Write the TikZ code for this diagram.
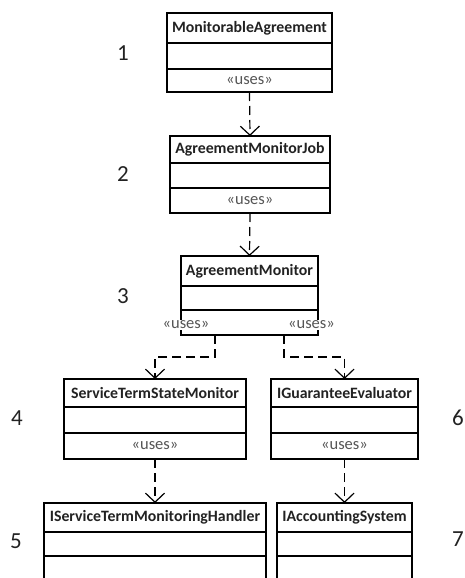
\documentclass[tikz,border=0pt]{standalone}
\usepackage{fontspec}
\setmainfont{Carlito}
\usetikzlibrary{arrows.meta}
\definecolor{txt}{HTML}{222222}
\definecolor{ltxt}{HTML}{555555}
\tikzset{
  comp/.style={draw=black, line width=1.2pt, anchor=north west, inner sep=0pt, outer sep=0pt, fill=white},
  ttl/.style={comp, font=\bfseries\fontsize{15.8}{15.8}\selectfont, text=txt},
  uses/.style={font=\fontsize{16.5}{16.5}\selectfont, text=ltxt},
  num/.style={font=\fontsize{23}{23}\selectfont, text=txt},
  dep/.style={draw=black, line width=1.2pt, dash pattern=on 9pt off 5pt, -{Straight Barb[length=9pt,width=19pt,line width=1.2pt]}},
}
\begin{document}
\begin{tikzpicture}[x=1pt,y=-1pt]
\useasboundingbox (0,0) rectangle (465,578);
\clip (0,0) rectangle (465,578);
% Box 1
\node[ttl, minimum width=165pt, minimum height=30pt] (b1) at (167,13) {MonitorableAgreement};
\node[comp, minimum width=165pt, minimum height=26pt] (b1m) at (167,43) {};
\node[comp, minimum width=165pt, minimum height=23pt, uses] (b1u) at (167,69) {«uses»};
% Box 2
\node[ttl, minimum width=160pt, minimum height=27pt] (b2) at (170,136) {AgreementMonitorJob};
\node[comp, minimum width=160pt, minimum height=25pt] (b2m) at (170,163) {};
\node[comp, minimum width=160pt, minimum height=25pt, uses] (b2u) at (170,188) {«uses»};
% Box 3
\node[ttl, minimum width=137pt, minimum height=30pt] (b3) at (181,256) {AgreementMonitor};
\node[comp, minimum width=137pt, minimum height=24pt] (b3m) at (181,286) {};
\node[comp, minimum width=137pt, minimum height=25pt] (b3u) at (181,310) {};
\node[uses, fill=white, inner sep=1pt] (u3l) at (186,325) {«uses»};
\node[uses, fill=white, inner sep=1pt] (u3r) at (311.5,325) {«uses»};
% Box 4
\node[ttl, minimum width=182pt, minimum height=28pt] (b4) at (64,379) {ServiceTermStateMonitor};
\node[comp, minimum width=182pt, minimum height=26pt] (b4m) at (64,407) {};
\node[comp, minimum width=182pt, minimum height=26pt, uses] (b4u) at (64,433) {«uses»};
% Box 6
\node[ttl, minimum width=147pt, minimum height=28pt] (b6) at (271,379) {IGuaranteeEvaluator};
\node[comp, minimum width=147pt, minimum height=26pt] (b6m) at (271,407) {};
\node[comp, minimum width=147pt, minimum height=26pt, uses] (b6u) at (271,433) {«uses»};
% Box 5
\node[ttl, minimum width=222pt, minimum height=29pt] (b5) at (44,503) {IServiceTermMonitoringHandler};
\node[comp, minimum width=222pt, minimum height=24pt] (b5m) at (44,532) {};
\node[comp, minimum width=222pt, minimum height=40pt] (b5u) at (44,556) {};
% Box 7
\node[ttl, minimum width=135pt, minimum height=29pt] (b7) at (277,503) {IAccountingSystem};
\node[comp, minimum width=135pt, minimum height=24pt] (b7m) at (277,532) {};
\node[comp, minimum width=135pt, minimum height=40pt] (b7u) at (277,556) {};
% numbers
\node[num] (n1) at (123,53) {1};
\node[num] (n2) at (123,174) {2};
\node[num] (n3) at (123,296) {3};
\node[num] (n4) at (17,418) {4};
\node[num] (n5) at (16,541) {5};
\node[num] (n6) at (458,418) {6};
\node[num] (n7) at (458,539) {7};
% connectors
\draw[dep] (b1u.south) -- (b2.north);
\draw[dep] (b2u.south) -- (b3.north);
\coordinate (s3l) at (215,335);
\coordinate (s3r) at (284,335);
\draw[dep] (s3l) -- ++(0,22) -| (b4.north);
\draw[dep] (s3r) -- ++(0,22) -| (b6.north);
\draw[dep] (b4u.south) -- (b5.north);
\draw[dep] (b6u.south) -- (b7.north);
\end{tikzpicture}
\end{document}
